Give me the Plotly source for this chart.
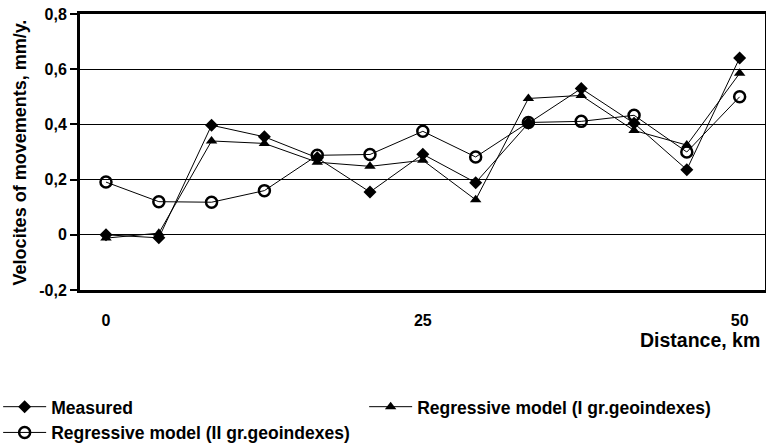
import plotly.graph_objects as go

distance_km = [0, 4.17, 8.33, 12.5, 16.67, 20.83, 25, 29.17, 33.33, 37.5, 41.67, 45.83, 50]
measured = [0.0, -0.011, 0.397, 0.355, 0.279, 0.155, 0.292, 0.189, 0.404, 0.53, 0.404, 0.236, 0.641]
reg_model_1 = [-0.012, 0.006, 0.34, 0.331, 0.263, 0.248, 0.27, 0.127, 0.494, 0.505, 0.378, 0.325, 0.585]
reg_model_2 = [0.191, 0.12, 0.118, 0.16, 0.288, 0.291, 0.375, 0.282, 0.407, 0.411, 0.433, 0.3, 0.5]

y_tickvals = [-0.2, 0, 0.2, 0.4, 0.6, 0.8]
y_ticktext = ["-0,2", "0", "0,2", "0,4", "0,6", "0,8"]
x_tickvals = [0, 25, 50]
x_ticktext = ["0", "25", "50"]

FONT = "Liberation Sans, Arial, sans-serif"

fig = go.Figure()
fig.add_trace(go.Scatter(
    x=distance_km, y=measured, name="Measured", mode="lines+markers",
    line=dict(color="black", width=1),
    marker=dict(symbol="diamond", size=10, color="black"),
))
fig.add_trace(go.Scatter(
    x=distance_km, y=reg_model_1, name="Regressive model (I gr.geoindexes)", mode="lines+markers",
    line=dict(color="black", width=1),
    marker=dict(symbol="triangle-up", size=10, color="black"),
))
fig.add_trace(go.Scatter(
    x=distance_km, y=reg_model_2, name="Regressive model (II gr.geoindexes)", mode="lines+markers",
    line=dict(color="black", width=1),
    marker=dict(symbol="circle-open", size=11, color="black", line=dict(width=2.5, color="black")),
))

fig.update_layout(
    width=766, height=448,
    margin=dict(l=80, r=1, t=14, b=158, autoexpand=False),
    paper_bgcolor="white", plot_bgcolor="white",
    font=dict(family=FONT, color="black", size=16, weight="bold"),
    xaxis=dict(
        range=[-2.05, 52.0], tickvals=x_tickvals, ticktext=x_ticktext,
        showgrid=False, zeroline=False, automargin=False,
        showline=True, linecolor="black", linewidth=3, mirror=True,
        ticks="", ticklabelstandoff=14,
        tickfont=dict(family=FONT, size=16, weight="bold"),
    ),
    yaxis=dict(
        range=[-0.2, 0.8], tickvals=y_tickvals, ticktext=y_ticktext,
        showgrid=True, gridcolor="black", gridwidth=1, zeroline=False, automargin=False,
        showline=True, linecolor="black", linewidth=3, mirror=True,
        ticks="outside", ticklen=7, tickwidth=1.5, tickcolor="black",
        tickfont=dict(family=FONT, size=16, weight="bold"),
    ),
    showlegend=True,
    legend=dict(
        orientation="h", x=-0.1195, xanchor="left", y=-0.358, yanchor="top",
        itemwidth=43, entrywidth=308, entrywidthmode="pixels",
        font=dict(family=FONT, size=17.5, weight="bold"),
        bgcolor="rgba(0,0,0,0)", tracegroupgap=0,
    ),
    annotations=[
        dict(text="Velocites of movements, mm/y.", xref="paper", yref="paper",
             x=-0.087, y=0.5, xanchor="center", yanchor="middle", textangle=-90,
             showarrow=False, font=dict(family=FONT, size=18, weight="bold")),
        dict(text="Distance, km", xref="paper", yref="paper",
             x=0.9956, y=-0.18, xanchor="right", yanchor="middle",
             showarrow=False, font=dict(family=FONT, size=19.5, weight="bold")),
    ],
)

fig.write_html(
    "out.html",
    config={"displayModeBar": False},
    post_script="document.body.style.margin='0';document.body.style.overflow='hidden';",
)
